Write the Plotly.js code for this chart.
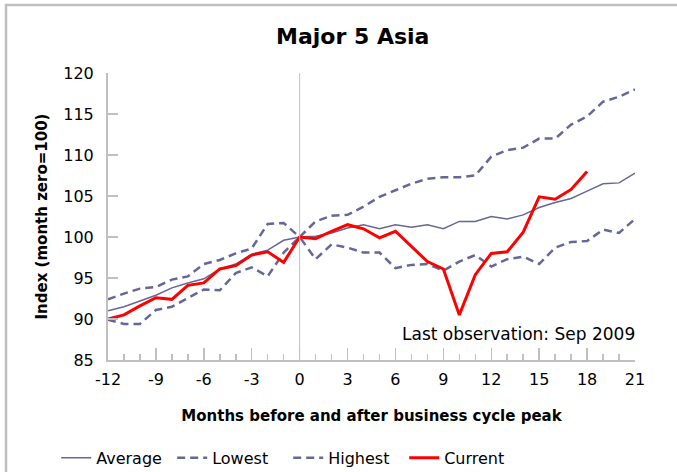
<!DOCTYPE html>
<html>
<head>
<meta charset="utf-8">
<script src="https://cdn.plot.ly/plotly-3.0.1.min.js"></script>
<style>html,body{margin:0;padding:0;background:#fff;}#chart{width:677px;height:472px;}</style>
</head>
<body>
<div id="chart"></div>
<script>
var months = [-12,-11,-10,-9,-8,-7,-6,-5,-4,-3,-2,-1,0,1,2,3,4,5,6,7,8,9,10,11,12,13,14,15,16,17,18,19,20,21];
var average = [91.0,91.5,92.2,92.9,93.8,94.4,94.9,96.1,96.7,97.9,98.4,99.6,100,100.1,100.5,101.1,101.5,101.0,101.5,101.2,101.5,101.0,101.9,101.9,102.5,102.2,102.7,103.6,104.2,104.7,105.6,106.5,106.6,107.8];
var lowest = [89.9,89.4,89.4,91.1,91.5,92.5,93.6,93.5,95.6,96.3,95.2,98.1,100,97.3,99.1,98.7,98.1,98.1,96.2,96.6,96.7,95.9,97.0,97.8,96.4,97.3,97.6,96.7,98.7,99.4,99.5,100.9,100.5,102.2];
var highest = [92.4,93.1,93.7,93.9,94.8,95.2,96.7,97.2,98.0,98.6,101.6,101.7,100,101.9,102.6,102.7,103.7,104.9,105.7,106.5,107.1,107.3,107.3,107.5,109.8,110.6,110.9,112.0,112.0,113.7,114.7,116.5,117.1,118.0];
var currentMonths = months.slice(0, 31);
var current = [90.0,90.5,91.6,92.6,92.4,94.1,94.4,96.1,96.5,97.8,98.2,96.9,100,99.8,100.7,101.5,101.0,99.9,100.7,98.8,97.0,96.1,90.5,95.4,98.0,98.2,100.6,104.9,104.6,105.8,108.0];
var xTicks = [-12,-9,-6,-3,0,3,6,9,12,15,18,21];
var yTicks = [85,90,95,100,105,110,115,120];

var lineBlue = '#666699';
var traces = [
  {x: months, y: average, name: 'Average', mode: 'lines', line: {color: lineBlue, width: 1.5}},
  {x: months, y: lowest, name: 'Lowest', mode: 'lines', line: {color: lineBlue, width: 2.5, dash: '8px,5px'}},
  {x: months, y: highest, name: 'Highest', mode: 'lines', line: {color: lineBlue, width: 2.5, dash: '8px,5px'}},
  {x: currentMonths, y: current, name: 'Current', mode: 'lines', line: {color: '#ff0000', width: 3}}
];

var axisGrey = '#c0c0c0';
var fam = 'DejaVu Sans, Arial, sans-serif';
var layout = {
  width: 677, height: 472,
  margin: {l: 108, r: 42, t: 73, b: 112},
  paper_bgcolor: '#fff', plot_bgcolor: '#fff',
  font: {family: fam, size: 16, color: '#000'},
  title: {text: '<b>Major 5 Asia</b>', font: {family: fam, size: 22, color: '#000'}, x: 0.521, xref: 'container', xanchor: 'center', y: 0.923, yref: 'container', yanchor: 'middle'},
  xaxis: {
    range: [-12, 21], tickvals: xTicks, ticktext: xTicks.map(String),
    showgrid: false, zeroline: false, showline: true, linecolor: axisGrey, linewidth: 2,
    ticks: 'inside', ticklen: 12, tickcolor: axisGrey, tickwidth: 1.5,
    minor: {dtick: 1, tick0: 0, ticks: 'inside', ticklen: 6, tickcolor: axisGrey, tickwidth: 1.5, showgrid: false},
    tickfont: {family: fam, size: 16}, ticklabelstandoff: 4, fixedrange: true,
    title: {text: '<b>Months before and after business cycle peak</b>', font: {family: fam, size: 15}, standoff: 22}
  },
  yaxis: {
    range: [85, 120], tickvals: yTicks, ticktext: yTicks.map(String),
    showgrid: false, zeroline: false, showline: true, linecolor: axisGrey, linewidth: 2,
    ticks: 'inside', ticklen: 10, tickcolor: axisGrey, tickwidth: 1.5,
    tickfont: {family: fam, size: 16}, ticklabelstandoff: 9, fixedrange: true,
    title: {text: '<b>Index (month zero=100)</b>', font: {family: fam, size: 15}, standoff: 12}
  },
  showlegend: true,
  legend: {orientation: 'h', x: 0.083, xref: 'container', xanchor: 'left', y: 0.03, yref: 'container', yanchor: 'middle',
    font: {family: fam, size: 16}, entrywidth: 71, entrywidthmode: 'pixels', itemwidth: 30, bgcolor: 'rgba(0,0,0,0)'},
  shapes: [
    {type: 'line', xref: 'x', yref: 'paper', x0: 0, x1: 0, y0: 0, y1: 1, line: {color: axisGrey, width: 1}},
    {type: 'rect', xref: 'paper', yref: 'paper', x0: -0.1935, x1: 1.3, y0: -0.5, y1: 1.237, line: {color: axisGrey, width: 2.5}, layer: 'below'}
  ],
  annotations: [
    {text: 'Last observation: Sep 2009', xref: 'paper', yref: 'paper', x: 1.003, y: 0.09, xanchor: 'right', yanchor: 'middle', showarrow: false, font: {family: fam, size: 17}}
  ]
};

Plotly.newPlot('chart', traces, layout, {displayModeBar: false, staticPlot: true});
</script>
</body>
</html>
